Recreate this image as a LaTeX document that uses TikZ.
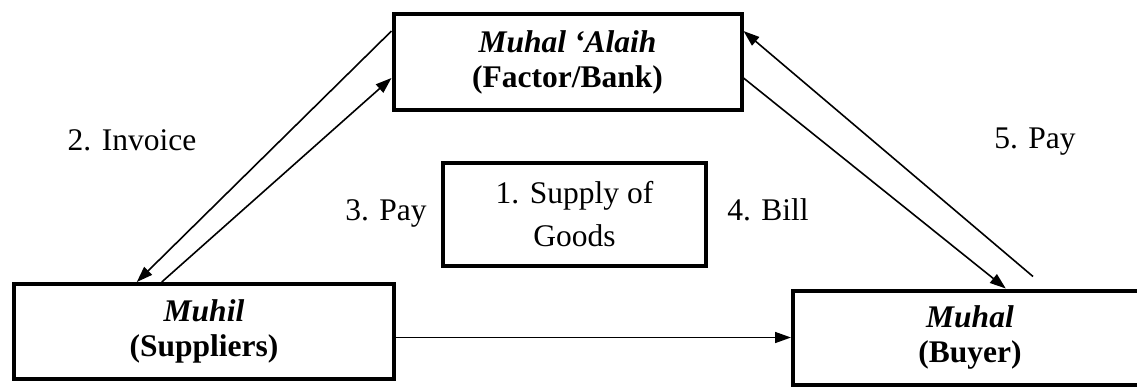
\documentclass[tikz,border=0pt]{standalone}
\usepackage{fontspec}
\setmainfont{Liberation Serif}
\usetikzlibrary{arrows.meta,calc}

\begin{document}
\begin{tikzpicture}[x=0.5pt,y=-0.5pt,
	party/.style={draw,line width=2pt,align=center,inner sep=0pt,font=\fontsize{15.75}{17.5}\selectfont},
	flow/.style={line width=0.8pt,-{Triangle[length=8pt,width=5.5pt]}},
	tag/.style={anchor=base,font=\fontsize{15.75}{17.5}\selectfont}]

	\useasboundingbox (0,0) rectangle (1137,387);
	\clip (0,0) rectangle (1137,387);

	% the three parties
	\node[party,minimum width=174pt,minimum height=48pt] (alaih) at (567.5,62) {\textbf{\textit{Muhal ‘Alaih}}\\\textbf{(Factor/Bank)}};
	\node[party,minimum width=190pt,minimum height=47.5pt] (muhil) at (204,331.5) {\textbf{\textit{Muhil}}\\\textbf{(Suppliers)}};
	\node[party,minimum width=177pt,minimum height=47pt] (muhal) at (970,337.5) {\textbf{\textit{Muhal}}\\\textbf{(Buyer)}};
	\node[party,minimum width=131.5pt,minimum height=51.5pt,font=\fontsize{15.75}{21.5}\selectfont] (goods) at (574.5,214.5) {1. Supply of\\Goods};

	% labels
	\node[tag] (invoice) at (132,150) {2. Invoice};
	\node[tag] (pay3) at (386,220) {3. Pay};
	\node[tag] (bill) at (768,220) {4. Bill};
	\node[tag] (pay5) at (1035,148) {5. Pay};

	% connectors
	\coordinate (payfrom) at ([shift={(242,-12)}]muhal.north west);
	\draw[flow] ($(alaih.north west)!0.19!(alaih.south west)$) -- ($(muhil.north west)!0.325!(muhil.north east)$);
	\draw[flow] ($(muhil.north west)!0.39!(muhil.north east)$) -- ($(alaih.north west)!0.66!(alaih.south west)$);
	\draw[flow] ($(alaih.north east)!0.66!(alaih.south east)$) -- ($(muhal.north west)!0.6!(muhal.north east)$);
	\draw[flow] (payfrom) -- ($(alaih.north east)!0.19!(alaih.south east)$);
	\draw[flow] (muhil.east |- muhal.west) -- (muhal.west);

\end{tikzpicture}
\end{document}
